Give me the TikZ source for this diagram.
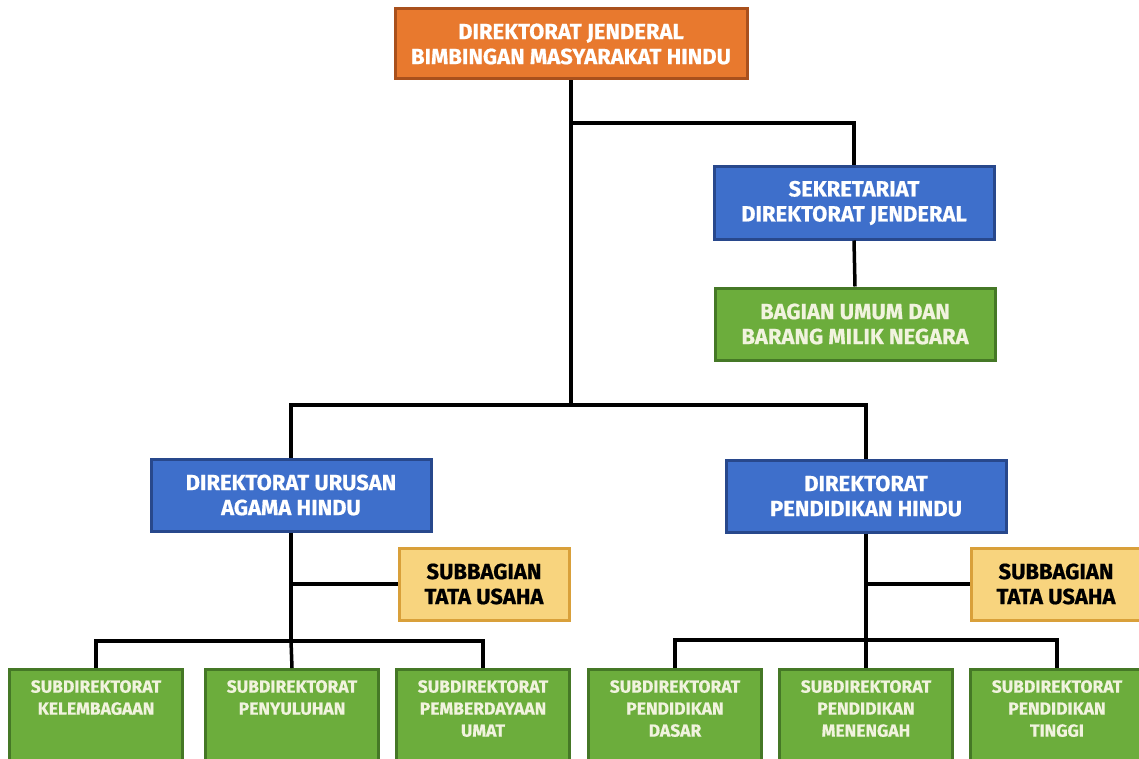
\documentclass[tikz,border=0pt]{standalone}
\usepackage{fontspec}
\setmainfont{Fira Sans}[BoldFeatures={FakeBold=0.6}]
\usepackage{tikz}
\usetikzlibrary{positioning}

\definecolor{djorange}{HTML}{E8792E}
\definecolor{djorangedk}{HTML}{A9501C}
\definecolor{djblue}{HTML}{3E6FCB}
\definecolor{djbluedk}{HTML}{28488C}
\definecolor{djgreen}{HTML}{6CAD3C}
\definecolor{djgreendk}{HTML}{457826}
\definecolor{djyellow}{HTML}{F8D47E}
\definecolor{djyellowdk}{HTML}{D9A03A}
\definecolor{djcream}{HTML}{F1F3DE}

\tikzset{
  unit/.style={draw, line width=3pt, rectangle, align=center, inner sep=0pt,
    font=\bfseries\fontsize{22}{25}\selectfont},
  kepala/.style={unit, fill=djorange, draw=djorangedk, text=white,
    minimum width=352pt, minimum height=70pt},
  direktorat/.style={unit, fill=djblue, draw=djbluedk, text=white,
    minimum width=280pt, minimum height=72pt},
  bagian/.style={unit, fill=djgreen, draw=djgreendk, text=djcream,
    minimum width=280pt, minimum height=72pt},
  tatausaha/.style={unit, fill=djyellow, draw=djyellowdk, text=black,
    minimum width=170pt, minimum height=72pt},
  subdit/.style={unit, fill=djgreen, draw=djgreendk,
    minimum width=173pt, minimum height=100pt, anchor=north},
  subtext/.style={text=djcream, align=center, inner sep=0pt, anchor=north,
    font=\bfseries\fontsize{17.5}{22}\selectfont},
  garis/.style={line width=3.5pt, black}
}

\begin{document}
\begin{tikzpicture}[x=1pt, y=-1pt]
    \useasboundingbox (0,0) rectangle (1139,759);

    % pimpinan dan sekretariat
    \node[kepala] (dirjen) at (571,44) {DIREKTORAT JENDERAL\\BIMBINGAN MASYARAKAT HINDU};
    \node[direktorat] (sekre) at (854,203) {SEKRETARIAT\\DIREKTORAT JENDERAL};
    \node[bagian] (umum) at (855,324) {BAGIAN UMUM DAN\\BARANG MILIK NEGARA};

    % direktorat
    \node[direktorat] (urusan) at (291,495) {DIREKTORAT URUSAN\\AGAMA HINDU};
    \node[direktorat] (pendidikan) at (866,496) {DIREKTORAT\\PENDIDIKAN HINDU};
    \node[tatausaha] (tuA) at (484,584) {SUBBAGIAN\\TATA USAHA};
    \node[tatausaha] (tuB) at (1056,584) {SUBBAGIAN\\TATA USAHA};

    % subdirektorat
    \node[subdit] (lembaga) at (96,668) {};
    \node[subdit] (suluh) at (292,668) {};
    \node[subdit] (daya) at (483,668) {};
    \node[subdit] (dasar) at (675,668) {};
    \node[subdit] (menengah) at (866,668) {};
    \node[subdit] (tinggi) at (1057,668) {};
    \node[subtext, below=12pt of lembaga.north] (lembagat) {SUBDIREKTORAT\\KELEMBAGAAN};
    \node[subtext, below=12pt of suluh.north] (suluht) {SUBDIREKTORAT\\PENYULUHAN};
    \node[subtext, below=12pt of daya.north] (dayat) {SUBDIREKTORAT\\PEMBERDAYAAN\\UMAT};
    \node[subtext, below=12pt of dasar.north] (dasart) {SUBDIREKTORAT\\PENDIDIKAN\\DASAR};
    \node[subtext, below=12pt of menengah.north] (menengaht) {SUBDIREKTORAT\\PENDIDIKAN\\MENENGAH};
    \node[subtext, below=12pt of tinggi.north] (tinggit) {SUBDIREKTORAT\\PENDIDIKAN\\TINGGI};

    % garis
    \coordinate (hub) at (dirjen.south |- 0,405);
    \coordinate (cabangA) at (urusan.south |- 0,641);
    \coordinate (cabangB) at (pendidikan.south |- 0,640);
    \draw[garis] (dirjen.south) -- (hub);
    \draw[garis] (dirjen.south |- 0,123) -| (sekre.north);
    \draw[garis] (sekre.south) -- (umum.north);
    \draw[garis] (urusan.north) |- (hub) -| (pendidikan.north);
    \draw[garis] (urusan.south) -- (cabangA);
    \draw[garis] (urusan.south |- tuA.west) -- (tuA.west);
    \draw[garis] (lembaga.north) |- (cabangA) -| (daya.north);
    \draw[garis] (suluh.north) -- (cabangA);
    \draw[garis] (pendidikan.south) -- (cabangB);
    \draw[garis] (pendidikan.south |- tuB.west) -- (tuB.west);
    \draw[garis] (dasar.north) |- (cabangB) -| (tinggi.north);
    \draw[garis] (menengah.north) -- (cabangB);
\end{tikzpicture}
\end{document}
